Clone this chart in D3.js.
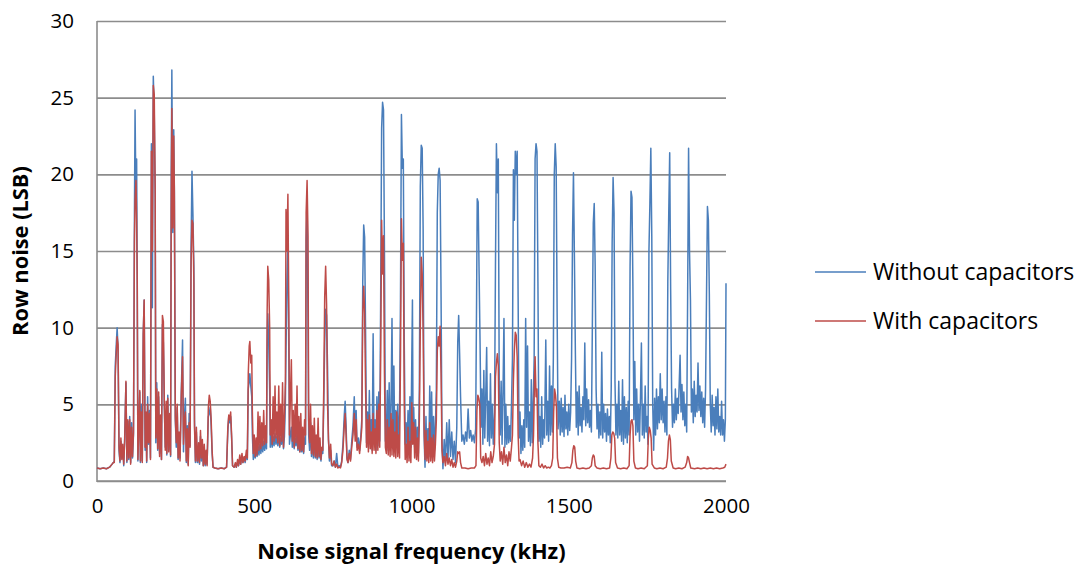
<!DOCTYPE html>
<html>
<head>
<meta charset="utf-8">
<script src="https://cdn.jsdelivr.net/npm/d3@7"></script>
<style>
  html, body { margin: 0; padding: 0; background: #ffffff; }
  svg { display: block; }
  text { font-family: "Open Sans", "Noto Sans", sans-serif; fill: #000; }
</style>
</head>
<body>
<svg id="chart" width="1088" height="567"></svg>
<script>
// ---- Data ----
const yTicks = [0, 5, 10, 15, 20, 25, 30];
const xTicks = [0, 500, 1000, 1500, 2000];
const seriesNames = ["Without capacitors", "With capacitors"];
const xTitle = "Noise signal frequency (kHz)";
const yTitle = "Row noise (LSB)";

// [frequency kHz, row noise LSB]
const withoutCapacitors = [
[0,0.85],[10,0.8],[20,0.85],[30,0.8],[40,0.9],[48,1.1],[52,1.2],
[55,1.3],[58,7.5],[61,8.8],[64,10.0],[67,8.6],[70,2.0],[73,1.2],[76,2.6],[79,1.5],[82,2.2],[85,1.0],[88,2.8],[92,6.4],[95,1.2],[98,3.9],[101,1.4],[104,4.2],[107,1.2],[110,3.8],[113,1.5],[116,3.0],[119,17.0],[121,24.2],[124,18.0],[126,21.0],[128,13.0],[130,1.3],[133,3.7],[136,5.8],[138,1.2],[141,5.0],[144,1.3],[147,9.5],[150,11.8],[153,2.0],[156,4.0],[158,1.2],[161,5.5],[164,2.4],[167,4.6],[170,1.5],[173,22.0],[176,11.3],[179,26.4],[182,24.0],[185,18.5],[187,2.5],[190,6.4],[193,2.0],[196,5.5],[199,1.8],[202,4.0],[205,1.4],[208,10.2],[211,9.0],[214,5.0],[217,2.2],[220,4.5],[222,1.7],[225,5.6],[228,2.0],[231,4.3],[234,1.6],[236,20.0],[238,26.8],[241,16.2],[244,22.9],[246,19.0],[249,4.0],[252,2.2],[255,4.8],[258,1.4],[261,2.8],[264,1.5],[268,5.8],[272,9.2],[275,1.9],[278,4.2],[281,5.4],[284,1.2],[287,3.6],[290,1.1],[293,4.4],[296,2.3],[299,15.0],[302,20.2],[305,17.4],[308,14.0],[310,4.0],[313,1.2],[316,3.2],[319,1.2],
[320,1.2],[323,2.2],[326,1.1],[329,2.9],[332,1.3],[335,2.4],[338,1.0],[341,2.0],[344,1.0],[347,1.8],[350,1.1],[354,4.2],[357,4.4],[360,4.8],[363,3.6],[366,1.8],[369,0.9],[375,0.85],[385,0.8],[395,0.85],[405,0.8],[412,0.9],[416,3.2],[419,4.2],[422,3.8],[425,4.2],[428,2.8],[431,1.0],[436,0.9],[440,1.1],[443,0.9],[447,1.2],[450,1.0],[454,1.4],[457,1.1],[461,1.6],[464,1.2],[468,1.5],[471,1.2],[475,1.7],[478,1.4],[481,6.0],[484,6.5],[486,7.0],[489,6.2],[492,5.5],[494,3.0],[497,1.4],[500,1.9],[503,1.5],[506,2.1],[509,1.6],[512,2.3],[515,1.7],[518,2.4],[521,1.8],[524,2.5],[527,1.9],[530,2.6],[533,2.0],[536,2.7],[539,2.1],[541,8.5],[543,10.9],[546,9.0],[549,6.0],[551,2.2],[554,3.0],[557,2.2],[560,2.9],[563,2.3],[566,3.1],[569,2.4],[572,2.9],[575,2.3],[578,3.2],[581,2.2],[584,2.8],[587,2.4],[590,3.4],[593,2.1],[596,2.9],[599,5.0],[601,8.5],[604,13.1],[607,15.4],[610,8.0],[612,2.4],[615,3.0],[618,3.5],[621,2.2],[624,3.0],[627,2.1],[630,2.8],[633,2.3],[636,3.2],[639,2.0],[642,2.6],[645,1.9],[648,2.6],[651,1.9],[654,2.5],[657,1.8],[660,2.8],[663,2.4],[665,15.7],[668,17.8],[671,10.5],[673,3.0],
[676,2.0],[679,3.8],[682,1.6],[685,3.0],[688,1.5],[691,3.2],[694,1.5],[697,2.6],[700,1.4],[703,3.2],[706,1.5],[709,2.4],[712,1.3],[715,2.0],[718,1.8],[721,5.0],[724,9.0],[727,11.2],[730,10.8],[733,7.5],[736,2.7],[739,1.3],[743,2.0],[746,1.0],[750,1.0],[754,1.3],[758,0.9],[762,1.8],[766,0.9],[770,1.0],[774,0.9],[778,1.3],[782,2.4],[786,4.2],[789,5.2],[792,3.6],[795,1.5],[798,1.2],[802,2.0],[806,1.4],[810,2.6],[814,3.6],[818,5.5],[821,3.0],[824,4.6],[827,2.2],[831,2.8],[835,2.0],[839,3.0],[842,4.0],[845,13.0],[848,16.7],[851,15.9],[854,9.6],[857,2.5],[860,4.5],[863,2.2],[866,5.9],[869,2.4],[872,4.0],[875,2.0],[878,9.6],[881,2.4],[884,4.0],[887,2.0],[890,5.5],[893,2.3],[896,5.8],[899,2.6],[902,12.0],[905,23.0],[908,24.7],[911,24.2],[914,15.0],[917,2.6],[920,3.0],[923,5.9],[926,2.0],[929,6.4],[932,2.2],[935,5.0],[938,10.6],[941,2.5],[944,7.5],[947,2.0],[950,4.6],[953,2.6],[956,5.0],[959,2.0],[962,4.5],[965,12.0],[968,23.9],[971,20.4],[974,21.0],[977,9.0],[980,2.4],[983,3.8],[986,2.0],[989,4.6],[992,1.8],[995,5.5],[998,2.2],[1001,8.0],[1003,11.8],[1005,3.0],[1007,4.8],
[1010,2.2],[1013,4.0],[1016,1.6],[1019,3.5],[1022,1.8],[1025,6.0],[1028,19.2],[1031,21.9],[1034,21.7],[1037,16.4],[1040,3.0],[1043,0.9],[1046,4.2],[1049,1.5],[1052,3.4],[1055,1.6],[1058,6.2],[1061,1.8],[1064,5.8],[1067,1.7],[1070,4.2],[1073,2.0],[1076,3.6],[1079,6.0],[1082,17.5],[1085,20.0],[1088,20.4],[1091,19.6],[1094,12.0],[1097,2.5],[1100,0.8],[1104,2.7],[1108,1.2],[1112,3.8],[1116,1.4],[1120,4.0],[1124,1.6],[1128,3.2],[1132,1.4],[1136,2.6],[1140,1.2],[1144,3.5],[1147,9.0],[1150,10.8],[1153,8.3],[1156,5.5],[1160,2.6],[1164,3.0],[1168,2.4],[1172,3.2],[1176,2.6],[1180,4.7],[1184,2.8],[1188,3.3],[1192,2.6],[1196,3.0],[1200,2.5],[1204,3.4],[1207,12.0],[1209,18.4],[1212,18.2],[1215,13.5],[1218,9.0],[1221,3.5],[1224,6.0],[1227,2.4],[1230,7.2],[1233,2.8],[1236,5.5],[1239,8.7],[1242,2.6],[1245,5.2],[1248,2.3],[1251,7.0],[1254,2.8],[1257,5.0],[1260,2.4],[1264,4.5],[1267,14.0],[1270,22.0],[1273,18.8],[1276,21.0],[1279,6.0],[1282,3.0],[1285,6.5],[1288,2.4],[1291,5.8],[1294,10.6],[1297,2.2],[1300,5.0],[1303,2.4],[1306,4.2],[1309,2.5],[1312,3.6],[1315,2.6],[1318,5.0],[1321,8.0],[1324,20.3],[1327,17.0],[1330,21.5],[1333,20.0],[1336,21.5],[1339,12.0],[1342,2.8],
[1345,4.5],[1348,1.8],[1351,3.6],[1354,2.0],[1357,4.0],[1360,2.2],[1363,10.6],[1366,3.5],[1369,8.8],[1372,2.6],[1375,4.5],[1378,2.3],[1381,6.6],[1384,2.5],[1387,5.0],[1390,8.0],[1393,21.0],[1396,22.0],[1399,21.5],[1402,13.0],[1405,2.6],[1408,4.2],[1411,2.2],[1414,5.5],[1417,2.4],[1420,4.0],[1423,2.8],[1427,9.2],[1430,3.0],[1433,5.2],[1436,2.6],[1439,7.5],[1442,3.0],[1445,6.2],[1448,3.2],[1451,8.0],[1454,20.0],[1457,22.0],[1460,20.5],[1463,11.0],[1466,3.4],[1470,5.2],[1473,3.0],[1476,5.4],[1479,3.2],[1482,4.8],[1485,2.9],[1488,5.6],[1491,3.4],[1494,4.5],[1497,3.0],[1500,5.0],[1503,3.3],[1506,4.5],[1509,8.0],[1512,16.0],[1515,20.1],[1518,14.6],[1521,8.5],[1524,3.5],[1527,5.8],[1530,3.0],[1533,6.2],[1536,3.6],[1539,4.8],[1542,3.2],[1545,5.5],[1548,4.0],[1551,9.0],[1554,3.6],[1557,6.0],[1560,3.8],[1563,5.3],[1566,3.5],[1569,4.6],[1572,3.2],[1575,10.0],[1578,16.8],[1581,18.1],[1584,14.0],[1587,6.0],[1590,3.4],[1593,5.0],[1596,2.8],[1599,4.5],[1602,3.0],[1605,8.4],[1608,2.8],[1611,5.0],[1614,3.2],[1617,4.4],[1620,2.6],[1623,4.7],[1626,3.0],[1629,4.2],[1632,2.5],[1635,6.0],[1638,15.5],[1641,19.8],[1644,17.5],[1647,6.5],[1650,3.0],[1653,5.0],[1656,2.8],[1659,6.5],[1662,3.0],[1665,4.6],[1668,2.6],[1671,6.6],[1674,2.4],[1677,5.5],[1680,2.8],
[1683,4.8],[1686,2.5],[1689,5.2],[1692,3.0],[1695,14.0],[1698,18.9],[1701,18.5],[1704,12.7],[1707,4.0],[1710,7.8],[1713,3.0],[1716,6.0],[1719,3.2],[1722,5.0],[1725,2.6],[1728,5.4],[1731,9.0],[1734,3.0],[1737,5.0],[1740,2.8],[1743,6.2],[1746,3.2],[1749,4.2],[1752,2.4],[1755,15.0],[1758,18.1],[1761,21.7],[1764,16.0],[1767,5.0],[1770,2.0],[1773,5.4],[1776,3.0],[1779,6.0],[1782,3.4],[1785,5.5],[1788,3.8],[1791,7.0],[1794,4.0],[1797,6.0],[1800,3.8],[1803,5.2],[1806,3.2],[1809,5.5],[1812,3.0],[1815,13.0],[1818,17.5],[1821,21.4],[1824,12.5],[1827,6.0],[1830,3.5],[1833,5.0],[1836,3.8],[1839,6.0],[1842,4.0],[1845,5.4],[1848,4.4],[1851,6.2],[1854,8.2],[1857,4.5],[1860,6.3],[1863,4.0],[1866,5.8],[1869,3.6],[1872,5.0],[1875,3.2],[1878,12.0],[1881,21.7],[1884,15.0],[1887,11.8],[1890,4.5],[1893,6.0],[1896,3.8],[1899,6.5],[1902,4.2],[1905,5.6],[1908,4.5],[1911,7.7],[1914,4.6],[1917,6.2],[1920,4.2],[1923,5.8],[1926,3.8],[1929,5.4],[1932,3.5],[1935,6.0],[1938,12.0],[1941,17.9],[1944,17.0],[1947,12.2],[1950,5.0],[1953,3.2],[1956,5.6],[1959,3.6],[1962,4.8],[1965,3.0],[1968,5.5],[1971,3.4],[1974,6.0],[1977,3.2],[1980,4.2],[1983,3.0],[1986,5.2],[1989,3.0],[1992,4.0],[1995,2.6],[1998,4.0],[2000,12.9]
];

const withCapacitors = [
[0,0.85],[10,0.8],[20,0.85],[30,0.8],[40,0.9],[48,1.1],[52,1.2],
[55,1.2],[58,6.8],[61,8.2],[64,9.4],[67,8.9],[70,2.2],[73,1.3],[76,2.8],[79,1.4],[82,2.4],[85,1.1],[88,2.6],[92,6.5],[95,1.3],[98,4.0],[101,1.5],[104,4.0],[107,1.1],[110,3.5],[113,1.6],[116,3.2],[119,15.6],[121,18.3],[124,19.6],[126,17.0],[128,12.8],[130,1.4],[133,3.4],[136,5.9],[138,1.3],[141,4.5],[144,1.2],[147,9.6],[150,11.8],[153,2.2],[156,4.5],[158,1.3],[161,5.0],[164,2.5],[167,4.4],[170,1.4],[173,21.5],[176,15.0],[179,25.8],[182,25.2],[185,19.0],[187,2.8],[190,6.0],[193,2.1],[196,5.8],[199,1.6],[202,4.3],[205,1.4],[208,10.8],[211,10.4],[214,5.2],[217,2.0],[220,5.2],[222,1.8],[225,5.4],[228,1.9],[231,4.4],[234,1.7],[236,17.5],[238,24.3],[241,16.5],[244,22.5],[246,18.8],[249,4.2],[252,2.5],[255,5.0],[258,1.5],[261,3.2],[264,1.3],[268,5.6],[272,8.1],[275,2.4],[278,4.0],[281,4.5],[284,1.3],[287,3.4],[290,1.0],[293,3.8],[296,2.2],[299,14.0],[302,17.0],[305,16.8],[308,13.0],[310,3.5],[313,1.3],[316,3.5],[319,1.3],
[320,1.3],[323,2.5],[326,1.2],[329,3.3],[332,1.5],[335,2.7],[338,1.0],[341,2.4],[344,1.1],[347,2.0],[350,1.0],[354,4.8],[357,5.6],[360,5.2],[363,4.0],[366,2.0],[369,0.9],[375,0.85],[385,0.8],[395,0.85],[405,0.8],[412,0.9],[416,3.5],[419,4.3],[422,4.0],[425,4.5],[428,3.0],[431,1.0],[436,0.9],[440,1.2],[443,0.9],[447,1.4],[450,1.0],[454,1.7],[457,1.1],[461,1.8],[464,1.2],[468,1.6],[471,1.3],[475,2.0],[478,1.5],[481,7.0],[484,8.8],[486,9.1],[489,7.7],[492,8.2],[494,4.5],[497,1.8],[500,3.0],[503,1.6],[506,2.8],[509,1.7],[512,4.5],[515,2.0],[518,4.2],[521,2.1],[524,3.8],[527,2.3],[530,4.6],[533,2.4],[536,3.6],[539,2.5],[541,11.0],[543,14.0],[546,13.1],[549,10.0],[551,3.0],[554,4.0],[557,2.4],[560,5.5],[563,2.6],[566,6.2],[569,2.8],[572,4.5],[575,2.5],[578,6.2],[581,2.3],[584,5.0],[587,2.6],[590,6.4],[593,2.2],[596,4.0],[599,6.5],[601,17.7],[604,15.0],[607,18.7],[610,11.0],[612,3.0],[615,5.5],[618,7.9],[621,2.6],[624,4.6],[627,2.2],[630,5.0],[633,2.5],[636,6.2],[639,2.1],[642,4.2],[645,1.9],[648,4.4],[651,2.0],[654,3.5],[657,1.9],[660,4.0],[663,3.0],[665,17.5],[668,19.6],[671,16.0],[673,4.0],
[676,2.5],[679,5.0],[682,1.8],[685,3.6],[688,1.7],[691,4.1],[694,1.6],[697,3.0],[700,1.5],[703,4.1],[706,1.6],[709,2.8],[712,1.4],[715,2.2],[718,2.0],[721,6.0],[724,12.0],[727,14.0],[730,11.5],[733,5.0],[736,2.7],[739,1.5],[743,2.4],[746,1.1],[750,1.0],[754,1.3],[758,0.9],[762,1.1],[766,0.85],[770,0.9],[774,0.85],[778,1.2],[782,2.0],[786,3.5],[789,4.4],[792,3.0],[795,1.4],[798,1.2],[802,1.8],[806,1.3],[810,2.2],[814,3.0],[818,4.4],[821,2.6],[824,4.0],[827,2.0],[831,2.4],[835,1.8],[839,2.7],[842,3.5],[845,11.0],[848,12.7],[851,10.9],[854,6.0],[857,2.2],[860,4.0],[863,1.9],[866,4.3],[869,2.1],[872,3.2],[875,1.8],[878,4.4],[881,2.0],[884,3.4],[887,1.8],[890,4.6],[893,2.0],[896,5.0],[899,2.2],[902,8.0],[905,17.0],[908,13.5],[911,16.0],[914,7.0],[917,2.2],[920,1.8],[923,4.0],[926,1.7],[929,3.5],[932,1.6],[935,4.4],[938,1.7],[941,4.0],[944,1.6],[947,3.2],[950,1.5],[953,4.5],[956,1.6],[959,3.0],[962,1.5],[965,8.0],[968,17.1],[971,14.4],[974,15.5],[977,5.0],[980,1.4],[983,2.4],[986,1.2],[989,3.5],[992,1.3],[995,2.6],[998,1.2],[1001,5.1],[1004,2.4],[1007,3.8],
[1010,1.5],[1013,3.5],[1016,1.4],[1019,2.8],[1022,1.3],[1025,4.0],[1028,10.0],[1031,14.6],[1034,13.5],[1037,9.6],[1040,3.5],[1043,1.4],[1046,3.3],[1049,1.3],[1052,2.6],[1055,1.2],[1058,3.8],[1061,1.3],[1064,2.8],[1067,1.2],[1070,3.0],[1073,1.3],[1076,2.4],[1079,4.0],[1082,8.5],[1085,9.4],[1088,8.8],[1091,10.1],[1094,7.0],[1097,2.0],[1100,1.2],[1104,1.6],[1108,1.0],[1112,1.8],[1116,1.1],[1120,1.5],[1124,1.0],[1128,1.4],[1132,0.9],[1136,1.2],[1140,0.9],[1144,1.3],[1147,1.9],[1150,1.8],[1153,1.9],[1156,1.2],[1160,0.85],[1170,0.85],[1180,0.8],[1190,0.85],[1200,0.85],[1205,1.0],[1208,4.6],[1211,5.6],[1214,5.4],[1217,5.0],[1220,1.5],[1224,1.2],[1228,1.6],[1232,1.0],[1236,1.8],[1240,1.1],[1244,1.5],[1248,1.0],[1252,1.9],[1256,1.2],[1260,1.6],[1264,2.4],[1267,6.8],[1270,7.7],[1273,8.3],[1276,7.5],[1279,2.5],[1282,1.3],[1286,1.9],[1290,1.1],[1294,2.2],[1298,1.2],[1302,1.7],[1306,1.0],[1310,1.9],[1314,1.3],[1318,2.2],[1321,3.0],[1324,6.5],[1327,8.5],[1330,9.7],[1333,9.5],[1336,8.1],[1339,3.0],[1342,1.3],
[1345,1.4],[1350,1.0],[1355,1.3],[1360,0.9],[1365,1.2],[1370,0.9],[1375,1.1],[1380,0.9],[1385,1.5],[1388,3.0],[1391,6.5],[1393,8.1],[1396,5.5],[1399,6.0],[1402,2.5],[1405,1.0],[1410,0.9],[1415,1.1],[1420,0.85],[1425,1.0],[1430,0.85],[1435,0.9],[1440,0.85],[1445,1.0],[1449,1.5],[1452,4.5],[1455,6.0],[1458,5.6],[1461,4.8],[1464,1.5],[1468,0.9],[1475,0.85],[1485,0.85],[1495,0.9],[1505,0.85],[1510,1.2],[1513,2.0],[1516,2.3],[1519,2.2],[1522,1.3],[1526,0.85],[1535,0.8],[1545,0.85],[1555,0.8],[1565,0.85],[1572,1.0],[1575,1.5],[1578,1.7],[1581,1.6],[1584,1.0],[1590,0.85],[1600,0.8],[1610,0.85],[1620,0.8],[1630,0.85],[1634,1.5],[1637,3.0],[1640,3.2],[1643,3.1],[1646,2.8],[1649,1.2],[1655,0.85],[1665,0.8],[1675,0.85],[1685,0.8],[1692,1.0],[1695,3.0],[1698,3.9],[1701,4.0],[1704,3.6],[1707,1.3],[1712,0.85],[1720,0.8],[1730,0.85],[1740,0.8],[1750,1.0],[1753,2.8],[1756,3.5],[1759,3.3],[1762,2.8],[1765,1.1],[1772,0.85],[1780,0.8],[1790,0.85],[1800,0.8],[1810,0.9],[1814,1.5],[1817,2.6],[1820,3.0],[1823,2.7],[1826,1.3],[1832,0.85],[1840,0.8],[1850,0.85],[1860,0.8],[1870,0.9],[1875,1.2],[1878,1.6],[1881,1.5],[1884,1.2],[1888,0.85],[1900,0.8],[1910,0.85],[1920,0.8],[1930,0.85],[1940,0.8],[1950,0.85],[1960,0.8],[1970,0.85],[1980,0.8],[1990,0.85],[1996,0.9],[2000,1.1]
];

const seriesColors = ["#4a7ebb", "#be4b48"];

// ---- Layout ----
const svg = d3.select("#chart");
const plot = { left: 97, right: 726, top: 21, bottom: 481 };

const x = d3.scaleLinear().domain([0, 2000]).range([plot.left, plot.right]);
const y = d3.scaleLinear().domain([0, 30]).range([plot.bottom, plot.top]);

// Gridlines via axis
const grid = svg.append("g")
  .attr("transform", `translate(${plot.left},0)`)
  .call(d3.axisLeft(y).tickValues(yTicks).tickSize(-(plot.right - plot.left)).tickFormat(""));
grid.select(".domain").remove();
grid.selectAll("line").attr("stroke", "#8c8c8c").attr("stroke-width", 1.6);

// Y axis labels
const yAxis = svg.append("g")
  .attr("transform", `translate(${plot.left},0)`)
  .call(d3.axisLeft(y).tickValues(yTicks).tickSize(0).tickPadding(23).tickFormat(d3.format("d")));
yAxis.select(".domain").remove();
yAxis.selectAll("text").attr("font-size", 20.5).attr("font-family", "Open Sans").attr("fill", "#000");

// X axis labels
const xAxis = svg.append("g")
  .attr("transform", `translate(0,${plot.bottom})`)
  .call(d3.axisBottom(x).tickValues(xTicks).tickSize(0).tickPadding(17).tickFormat(d3.format("d")));
xAxis.select(".domain").remove();
xAxis.selectAll("text").attr("font-size", 20.5).attr("font-family", "Open Sans").attr("fill", "#000");

// Axis lines
svg.append("line").attr("x1", plot.left).attr("x2", plot.left)
  .attr("y1", plot.top).attr("y2", plot.bottom + 1)
  .attr("stroke", "#8c8c8c").attr("stroke-width", 1.6);
svg.append("line").attr("x1", plot.left).attr("x2", plot.right)
  .attr("y1", plot.bottom).attr("y2", plot.bottom)
  .attr("stroke", "#8c8c8c").attr("stroke-width", 1.6);

// Lines
const line = d3.line().x(d => x(d[0])).y(d => y(d[1]));
[withoutCapacitors, withCapacitors].forEach((data, i) => {
  svg.append("path")
    .datum(data)
    .attr("fill", "none")
    .attr("stroke", seriesColors[i])
    .attr("stroke-width", 1.5)
    .attr("stroke-linejoin", "round")
    .attr("d", line);
});

// Axis titles
svg.append("text")
  .attr("x", (plot.left + plot.right) / 2)
  .attr("y", 559)
  .attr("text-anchor", "middle")
  .attr("font-size", 21.8)
  .attr("font-weight", "bold")
  .text(xTitle);

svg.append("text")
  .attr("transform", `translate(28,${(plot.top + plot.bottom) / 2}) rotate(-90)`)
  .attr("text-anchor", "middle")
  .attr("font-size", 21.8)
  .attr("font-weight", "bold")
  .text(yTitle);

// Legend
const legendY = [272, 321];
seriesNames.forEach((name, i) => {
  svg.append("line")
    .attr("x1", 815).attr("x2", 866)
    .attr("y1", legendY[i]).attr("y2", legendY[i])
    .attr("stroke", seriesColors[i]).attr("stroke-width", 1.3);
  svg.append("text")
    .attr("x", 873).attr("y", legendY[i] + 8)
    .attr("font-size", 23)
    .text(name);
});
</script>
</body>
</html>
